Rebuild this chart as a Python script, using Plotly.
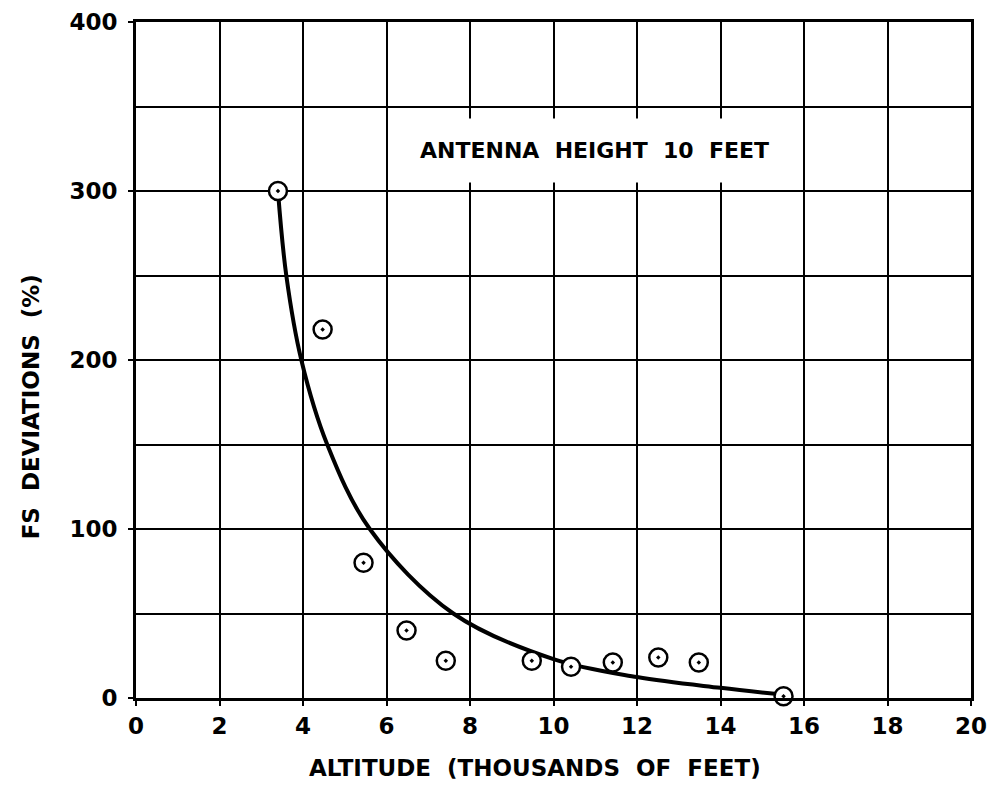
import plotly.graph_objects as go

# Observed data points (altitude in thousands of feet, FS deviation %)
alt_pts = [3.40, 4.47, 5.45, 6.48, 7.42, 9.48, 10.42, 11.42, 12.51, 13.48, 15.51]
dev_pts = [300, 218, 80, 40, 22, 22, 18.5, 21, 24, 21, 1]

# Fitted curve
alt_curve = [3.40, 3.60, 3.96, 4.58, 5.60, 7.60, 10.0, 12.0, 14.0, 15.5]
dev_curve = [300, 250, 200, 150, 100, 50, 23, 12.4, 6, 2]

x_ticks = [0, 2, 4, 6, 8, 10, 12, 14, 16, 18, 20]
y_ticks = [0, 100, 200, 300, 400]

FONT = "DejaVu Sans"

fig = go.Figure()
fig.add_trace(go.Scatter(
    x=alt_curve, y=dev_curve, mode="lines",
    line=dict(color="black", width=4, shape="spline", smoothing=1.0),
    hoverinfo="skip", showlegend=False,
))
fig.add_trace(go.Scatter(
    x=alt_pts, y=dev_pts, mode="markers",
    marker=dict(symbol="circle-dot", size=18, color="white",
                line=dict(color="black", width=2.5)),
    cliponaxis=False, showlegend=False,
))

axis_common = dict(
    showline=True, linecolor="black", linewidth=3, mirror=True,
    showgrid=True, gridcolor="black", gridwidth=2,
    ticks="outside", ticklen=5, tickwidth=2, tickcolor="black",
    zeroline=False, automargin=False,
    tickfont=dict(family=FONT, size=23, color="black", weight="bold"),
)

fig.update_xaxes(range=[0, 20], tickvals=x_ticks, ticktext=[str(v) for v in x_ticks],
                 ticklabelstandoff=0, **axis_common)
fig.update_yaxes(range=[0, 400], tickvals=y_ticks, ticktext=[str(v) for v in y_ticks],
                 minor=dict(dtick=50, showgrid=True, gridcolor="black", gridwidth=2, ticks=""),
                 ticklabelstandoff=6, **axis_common)

fig.add_annotation(
    x=10.98, y=324, xref="x", yref="y",
    text="ANTENNA  HEIGHT  10  FEET", showarrow=False,
    font=dict(family=FONT, size=22, color="black", weight="bold"),
    bgcolor="white", borderpad=19,
)
fig.add_annotation(
    x=0.478, y=-0.1036, xref="paper", yref="paper", yanchor="middle", xanchor="center",
    text="ALTITUDE  (THOUSANDS  OF  FEET)", showarrow=False,
    font=dict(family=FONT, size=23, color="black", weight="bold"),
)
fig.add_annotation(
    x=-0.1257, y=0.43, xref="paper", yref="paper", textangle=-90,
    xanchor="center", yanchor="middle",
    text="FS  DEVIATIONS  (%)", showarrow=False,
    font=dict(family=FONT, size=23, color="black", weight="bold"),
)

fig.update_layout(
    width=995, height=782,
    margin=dict(l=128, r=32, t=14, b=92, autoexpand=False),
    paper_bgcolor="white", plot_bgcolor="white",
    showlegend=False,
)

fig.write_html("out.html")
